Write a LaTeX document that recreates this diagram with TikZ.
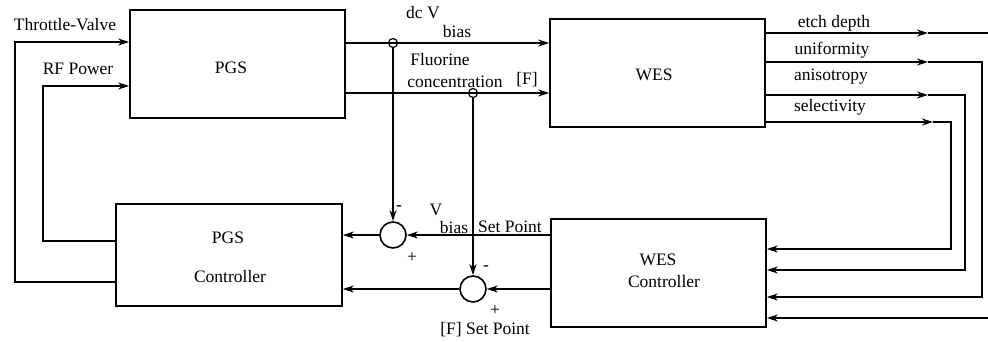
\documentclass[tikz,border=0pt]{standalone}
\usepackage{fontspec}
\setmainfont{Liberation Serif}
\usetikzlibrary{arrows.meta}
\begin{document}
\begin{tikzpicture}[x=1pt,y=-1pt,
  box/.style={draw, line width=1.6pt, rectangle, inner sep=0pt},
  ln/.style={line width=1.6pt},
  arr/.style={ln, -{Stealth[length=11pt,width=7pt]}},
  lbl/.style={inner sep=0pt, font=\fontsize{17.5}{19}\selectfont},
  sumj/.style={draw, circle, line width=1.6pt, minimum size=26pt, inner sep=0pt},
  tap/.style={draw, circle, line width=1.2pt, minimum size=9pt, inner sep=0pt}]
\useasboundingbox (0,0) rectangle (988,341);
% blocks
\node[box, minimum width=215pt, minimum height=108pt] (pgs) at (237.5,64) {};
\node[box, minimum width=215pt, minimum height=108pt] (wes) at (657.5,73) {};
\node[box, minimum width=226pt, minimum height=102pt] (pgsc) at (229,255) {};
\node[box, minimum width=215pt, minimum height=108pt] (wesc) at (658.5,273) {};
\node[lbl] (pgsT) at (231,68) {PGS};
\node[lbl] (wesT) at (654,75) {WES};
\node[lbl] (pgscT1) at (228,238) {PGS};
\node[lbl] (pgscT2) at (230,277) {Controller};
\node[lbl] (wescT1) at (658,260) {WES};
\node[lbl] (wescT2) at (664,282) {Controller};
% summing junctions
\node[sumj] (s1) at (393,235) {};
\node[sumj] (s2) at (473,289) {};
% inputs to PGS
\coordinate (tvL) at (15,42);
\coordinate (tvB) at (15,282);
\coordinate (rfL) at (43,86);
\coordinate (rfB) at (43,241);
\draw[arr] (tvB -| pgsc.west) -- (tvB) -- (tvL) -- (tvL -| pgs.west);
\draw[arr] (rfB -| pgsc.west) -- (rfB) -- (rfL) -- (rfL -| pgs.west);
\node[lbl] (tvT) at (65,25) {Throttle-Valve};
\node[lbl] (rfT) at (78,69) {RF Power};
% PGS -> WES
\coordinate (vb) at (393,43);
\coordinate (fl) at (473,93);
\draw[arr] (vb -| pgs.east) -- (vb -| wes.west);
\draw[arr] (fl -| pgs.east) -- (fl -| wes.west);
\node[tap] (t1) at (vb) {};
\node[tap] (t2) at (fl) {};
\node[lbl] (dcT) at (423,13) {dc V};
\node[lbl] (biasT) at (457,32) {bias};
\node[lbl] (fluT) at (440,60) {Fluorine};
\node[lbl] (conT) at (455,82) {concentration};
\node[lbl] (fT) at (527,80) {[F]};
% feedback
\draw[arr] (t1.south) -- (s1.north);
\draw[arr] (t2.south) -- (s2.north);
\draw[arr] (s1 -| wesc.west) -- (s1.east);
\draw[arr] (s1.west) -- (s1 -| pgsc.east);
\draw[arr] (s2 -| wesc.west) -- (s2.east);
\draw[arr] (s2.west) -- (s2 -| pgsc.east);
\node[lbl] (m1) at (399,208) {-};
\node[lbl] (p1) at (412,258) {+};
\node[lbl] (m2) at (486,268) {-};
\node[lbl] (p2) at (495,311) {+};
\node[lbl] (vT) at (436,210) {V};
\node[lbl] (vbT) at (454,228) {bias};
\node[lbl] (spT) at (510,227) {Set Point};
\node[lbl] (fspT) at (485,330) {[F] Set Point};
% WES outputs
\coordinate (ed) at (928,33);
\coordinate (edR) at (988,33);
\draw[arr] (ed -| wes.east) -- (ed);
\draw[ln] (ed) -- (edR);
\coordinate (un) at (928,62);
\coordinate (unC) at (982,62);
\coordinate (unD) at (982,297);
\draw[arr] (un -| wes.east) -- (un);
\draw[arr] (un) -- (unC) -- (unD) -- (unD -| wesc.east);
\coordinate (an) at (928,95);
\coordinate (anC) at (965,95);
\coordinate (anD) at (965,270);
\draw[arr] (an -| wes.east) -- (an);
\draw[arr] (an) -- (anC) -- (anD) -- (anD -| wesc.east);
\coordinate (se) at (933,122);
\coordinate (seC) at (951,122);
\coordinate (seD) at (951,249);
\draw[arr] (se -| wes.east) -- (se);
\draw[arr] (se) -- (seC) -- (seD) -- (seD -| wesc.east);
\coordinate (bt) at (988,318);
\draw[arr] (bt) -- (bt -| wesc.east);
\node[lbl] (edT) at (834,23) {etch depth};
\node[lbl] (unT) at (832,50) {uniformity};
\node[lbl] (anT) at (831,77) {anisotropy};
\node[lbl] (seT) at (830,107) {selectivity};
\end{tikzpicture}
\end{document}
